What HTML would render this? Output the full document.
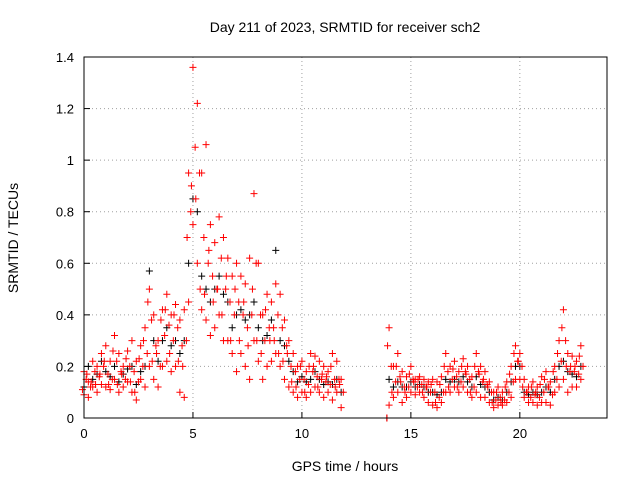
<!DOCTYPE html>
<html><head><meta charset="utf-8"><style>
body{margin:0;background:#fff}
svg{display:block;font-family:"Liberation Sans",sans-serif}
</style></head><body>
<svg id="chart" width="640" height="480" viewBox="0 0 640 480">
<rect x="0" y="0" width="640" height="480" fill="#fff"/>
<text x="345" y="32" font-size="14" text-anchor="middle">Day 211 of 2023, SRMTID for receiver sch2</text>
<text transform="translate(18,238) rotate(-90)" font-size="14" text-anchor="middle">SRMTID / TECUs</text>
<text x="345" y="471" font-size="14" text-anchor="middle">GPS time / hours</text>
<g id="grid"></g>
<g id="marks"></g>
<rect x="84" y="57" width="523" height="361" fill="none" stroke="#000" stroke-width="1"/>
<g id="ticks"></g>
</svg>
<script>
const xTicks=[0,5,10,15,20];
const yTicks=[0,0.2,0.4,0.6,0.8,1,1.2,1.4];
const yTickLabels=["0","0.2","0.4","0.6","0.8","1","1.2","1.4"];
const hours=[0.0,0.2,0.4,0.6,0.8,1.0,1.2,1.4,1.6,1.8,2.0,2.2,2.4,2.6,2.8,3.0,3.2,3.4,3.6,3.8,4.0,4.2,4.4,4.6,4.8,5.0,5.2,5.4,5.6,5.8,6.0,6.2,6.4,6.6,6.8,7.0,7.2,7.4,7.6,7.8,8.0,8.2,8.4,8.6,8.8,9.0,9.2,9.4,9.6,9.8,10.0,10.2,10.4,10.6,10.8,11.0,11.2,11.4,11.6,11.8,13.9,14.0,14.2,14.4,14.6,14.8,15.0,15.2,15.4,15.6,15.8,16.0,16.2,16.4,16.6,16.8,17.0,17.2,17.4,17.6,17.8,18.0,18.2,18.4,18.6,18.8,19.0,19.2,19.4,19.6,19.8,20.0,20.2,20.4,20.6,20.8,21.0,21.2,21.4,21.6,21.8,22.0,22.2,22.4,22.6,22.8];
const redHigh=[.18,.14,.22,.2,.25,.28,.22,.32,.25,.2,.26,.3,.22,.28,.35,.5,.4,.3,.42,.48,.4,.44,.38,.42,.95,1.36,1.22,.95,1.06,.75,.68,.78,.7,.62,.55,.6,.55,.52,.62,.87,.6,.4,.48,.45,.52,.48,.38,.3,.25,.2,.22,.18,.25,.24,.22,.2,.18,.25,.22,.15,0,.35,.2,.25,.18,.16,.2,.15,.16,.15,.14,.15,.14,.16,.25,.2,.22,.18,.23,.2,.16,.25,.2,.18,.14,.1,.12,.1,.14,.2,.28,.25,.15,.12,.14,.12,.16,.18,.14,.2,.3,.42,.25,.24,.22,.28];
const redLow=[.09,.08,.12,.1,.13,.12,.11,.15,.1,.12,.14,.1,.07,.15,.12,.2,.15,.12,.2,.22,.18,.2,.1,.08,.45,.75,.6,.42,.38,.32,.35,.4,.3,.3,.25,.18,.25,.2,.15,.3,.22,.15,.2,.22,.25,.2,.15,.12,.1,.08,.1,.08,.1,.12,.1,.08,.1,.07,.1,.04,0,.05,.08,.1,.06,.08,.1,.09,.1,.08,.06,.05,.04,.06,.1,.1,.12,.1,.12,.1,.08,.1,.08,.08,.06,.04,.05,.05,.06,.08,.15,.15,.08,.06,.06,.05,.06,.06,.05,.1,.12,.15,.1,.12,.12,.15];
const redMid=[.15,.12,.18,.16,.2,.17,.15,.22,.18,.15,.2,.18,.14,.2,.25,.38,.28,.2,.32,.36,.3,.35,.28,.3,.8,1.05,.95,.7,.6,.55,.5,.62,.5,.45,.4,.45,.4,.35,.4,.6,.4,.3,.35,.35,.4,.35,.28,.2,.18,.15,.15,.13,.18,.16,.15,.14,.13,.15,.15,.1,0,.2,.14,.16,.12,.12,.15,.12,.13,.12,.1,.1,.08,.1,.18,.15,.16,.14,.18,.15,.12,.18,.14,.13,.1,.07,.08,.07,.1,.14,.22,.2,.1,.08,.09,.08,.1,.12,.09,.15,.22,.3,.18,.18,.17,.2];
const redMid2=[.11,.17,.14,.13,.17,.22,.13,.26,.13,.17,.23,.14,.1,.23,.3,.45,.22,.25,.38,.42,.25,.4,.22,.2,.7,.9,.85,.5,.48,.65,.45,.5,.4,.55,.3,.5,.3,.45,.28,.5,.3,.25,.42,.3,.3,.25,.22,.25,.14,.12,.2,.1,.2,.2,.12,.17,.16,.2,.12,.13,0,.28,.1,.2,.14,.1,.17,.14,.15,.1,.12,.13,.06,.13,.2,.12,.19,.12,.2,.17,.1,.2,.17,.15,.12,.06,.1,.06,.12,.17,.25,.22,.12,.1,.12,.1,.13,.15,.12,.18,.25,.35,.2,.2,.2,.24];
const blackValues=[.12,.2,.15,.17,.22,.18,.16,.2,.14,.17,.19,.2,.13,.18,.2,.57,.3,.22,.3,.35,.28,.3,.25,.3,.6,.85,.8,.55,.5,.45,.5,.55,.48,.45,.35,.4,.42,.38,.4,.45,.35,.3,.32,.38,.65,.3,.28,.22,.18,.14,.16,.14,.15,.18,.15,.13,.14,.13,.15,.1,0,.15,.12,.14,.12,.12,.14,.12,.13,.12,.1,.1,.09,.1,.15,.14,.15,.14,.16,.14,.12,.16,.13,.12,.1,.07,.08,.07,.1,.14,.2,.2,.1,.09,.1,.09,.1,.12,.1,.15,.2,.22,.18,.17,.16,.2];
const NS="http://www.w3.org/2000/svg";
const L=84,R=607,T=57,B=418;
const xs=h=>L+(h/24)*(R-L);
const ys=v=>B-(v/1.4)*(B-T);
const grid=document.getElementById('grid'),ticks=document.getElementById('ticks'),marks=document.getElementById('marks');
function mk(tag,attrs,parent){const e=document.createElementNS(NS,tag);for(const k in attrs)e.setAttribute(k,attrs[k]);parent.appendChild(e);return e;}
xTicks.forEach(t=>{const x=xs(t);
 if(t>0){const g=mk('line',{x1:x,x2:x,y1:T,y2:B,stroke:'#a0a0a0','stroke-dasharray':'1,3'},grid);
 
 }
 const tk=mk('line',{x1:x,x2:x,y1:B,y2:B-6,stroke:'#000'},ticks);
 
 
 const lb=mk('text',{x:x,y:B+20,'font-size':13,'text-anchor':'middle'},ticks);lb.textContent=t;
 
 
});
yTicks.forEach((t,i)=>{const y=ys(t);
 if(t>0&&t<1.4){const g=mk('line',{x1:L,x2:R,y1:y,y2:y,stroke:'#a0a0a0','stroke-dasharray':'1,3'},grid);
 
 }
 const tk=mk('line',{x1:L,x2:L+6,y1:y,y2:y,stroke:'#000'},ticks);
 
 
 const lb=mk('text',{x:L-10,y:y+5,'font-size':13,'text-anchor':'end'},ticks);lb.textContent=yTickLabels[i];
 
 
});
function plus(h,v,color,name){const x=xs(h),y=ys(v);
 const p=mk('path',{d:`M${x-3.5},${y}H${x+3.5}M${x},${y-3.5}V${y+3.5}`,stroke:color,'stroke-width':1,fill:'none'},marks);
 
 
}
hours.forEach((h,i)=>plus(h,blackValues[i],'#000','black-point'));
hours.forEach((h,i)=>{
 plus(h,redHigh[i],'#f00','red-point');
 plus(h,redLow[i],'#f00','red-point');
 if(h!==13.9){plus(h+0.1,redMid[i],'#f00','red-point');
 plus(h-0.07,redMid2[i],'#f00','red-point');}
});
</script>
</body></html>
